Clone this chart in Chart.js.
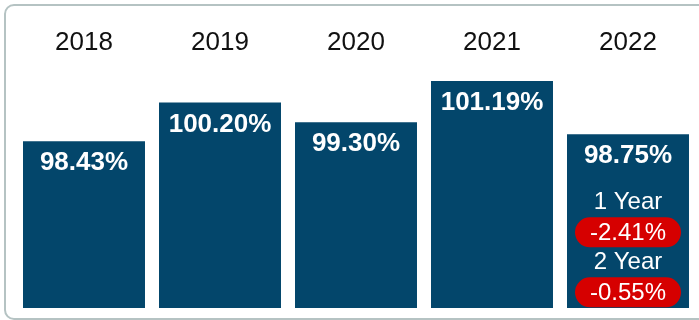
<!DOCTYPE html>
<html>
<head>
<meta charset="utf-8">
<script src="https://cdn.jsdelivr.net/npm/chart.js@4"></script>
<style>
  html, body { margin: 0; padding: 0; background: #ffffff; overflow: hidden; }
  #frame {
    position: absolute; left: 4px; top: 4px;
    width: 760px; height: 312px;
    border: 2px solid #b5c3c3; border-radius: 10px;
  }
  #chart { position: absolute; left: 0; top: 0; }
</style>
</head>
<body>
<div id="frame"></div>
<canvas id="chart" width="699" height="320"></canvas>
<script>
// Yearly ratio values
const years = ['2018', '2019', '2020', '2021', '2022'];
const ratios = [98.43, 100.20, 99.30, 101.19, 98.75];
// Change figures shown in the latest year's bar
const changeLabels = ['1 Year', '2 Year'];
const changeValues = [-2.41, -0.55];

const barColor = '#03466b';
const pillColor = '#d60000';
const fontFamily = '"Liberation Sans", Arial, Helvetica, sans-serif';

function fmt(v) { return v.toFixed(2) + '%'; }

const labelPlugin = {
  id: 'barLabels',
  afterDatasetsDraw(chart) {
    const ctx = chart.ctx;
    const bars = chart.getDatasetMeta(0).data;
    ctx.save();
    ctx.textAlign = 'center';
    ctx.textBaseline = 'middle';
    ctx.fillStyle = '#ffffff';
    ctx.font = 'bold 26px ' + fontFamily;
    bars.forEach((bar, i) => {
      ctx.fillText(fmt(ratios[i]), bar.x, bar.y + 22);
    });
    // change annotations in the last bar
    const last = bars[bars.length - 1];
    ctx.font = '24px ' + fontFamily;
    changeLabels.forEach((lab, k) => {
      const ty = last.y + 68 + k * 60;
      ctx.fillStyle = '#ffffff';
      ctx.fillText(lab, last.x, ty);
      const py = ty + 30, w = 106, h = 30;
      ctx.fillStyle = pillColor;
      ctx.beginPath();
      ctx.roundRect(last.x - w / 2, py - h / 2, w, h, h / 2);
      ctx.fill();
      ctx.fillStyle = '#ffffff';
      ctx.fillText(fmt(changeValues[k]), last.x, py + 1);
    });
    ctx.restore();
  }
};

new Chart(document.getElementById('chart'), {
  type: 'bar',
  data: {
    labels: years,
    datasets: [{
      data: ratios,
      backgroundColor: barColor,
      borderWidth: 0,
      barPercentage: 0.897,
      categoryPercentage: 1.0
    }]
  },
  options: {
    responsive: false,
    devicePixelRatio: 1,
    animation: false,
    layout: { padding: { left: 16, right: 3, top: 0, bottom: 12 } },
    plugins: { legend: { display: false }, tooltip: { enabled: false } },
    scales: {
      x: {
        position: 'top',
        grid: { display: false, drawTicks: false },
        border: { display: false },
        ticks: { color: '#111111', font: { family: fontFamily, size: 26 }, padding: 2 },
        afterFit(scale) { scale.height = 60; }
      },
      y: {
        display: false,
        min: 90.8,
        max: 102.15
      }
    }
  },
  plugins: [labelPlugin]
});
</script>
</body>
</html>
